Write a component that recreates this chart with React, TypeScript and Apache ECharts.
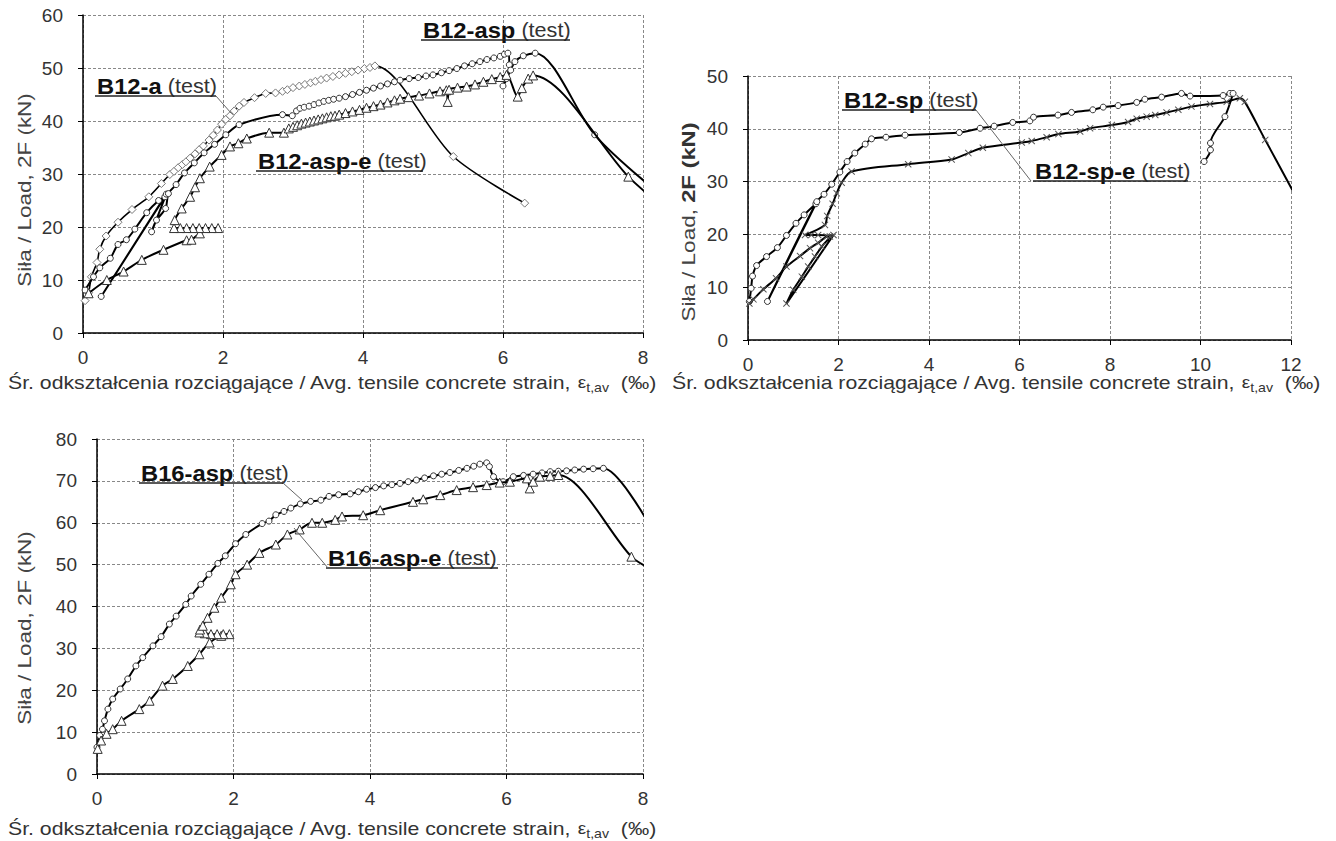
import React, { useEffect, useRef } from "react";
import * as echarts from "echarts";

// ---------- DATA ----------
// Chart 1 (B12)
const B12_A: number[][] = [
  [0.03, 6.1], [0.08, 7.6], [0.12, 10.6], [0.2, 13.3], [0.24, 15.8], [0.33, 18.3], [0.5, 20.9], [0.7, 23.3],
  [0.94, 25.7], [1.12, 28.2], [1.24, 29.9], [1.3, 30.5], [1.36, 31.2], [1.42, 31.8], [1.47, 32.3], [1.53, 33.0],
  [1.6, 33.8], [1.66, 34.6], [1.72, 35.3], [1.8, 36.4], [1.86, 37.3], [1.92, 38.3], [1.98, 39.4], [2.04, 40.3],
  [2.1, 41.0], [2.16, 41.9], [2.23, 42.8], [2.3, 43.5], [2.45, 44.4], [2.61, 45.2], [2.75, 45.3], [2.85, 45.6],
  [2.92, 45.9], [3.0, 46.3], [3.09, 46.6], [3.17, 46.9], [3.25, 47.2], [3.32, 47.5], [3.4, 47.8], [3.48, 48.1],
  [3.57, 48.4], [3.66, 48.7], [3.75, 49.0], [3.84, 49.3], [3.93, 49.6], [4.02, 49.9], [4.1, 50.1], [4.17, 50.4],
  [5.29, 33.3], [6.31, 24.5],
];
const B12_ASP: number[][] = [
  [0.03, 8.1], [0.15, 10.6], [0.24, 12.3], [0.39, 14.1], [0.5, 16.7], [0.62, 17.6], [0.74, 19.6], [0.91, 22.7],
  [1.08, 25.0], [1.17, 25.7], [0.26, 6.9], [1.19, 26.2], [0.98, 19.1], [1.05, 21.3], [1.18, 23.5], [1.22, 26.3],
  [1.33, 28.0], [1.45, 30.2], [1.59, 32.1], [1.73, 34.0], [1.88, 35.6], [2.04, 37.4], [2.23, 39.3], [2.85, 41.2],
  [2.99, 41.0], [3.05, 41.9], [3.1, 42.4], [3.16, 42.6], [3.23, 42.8], [3.3, 43.1], [3.37, 43.4], [3.44, 43.7],
  [3.51, 43.9], [3.58, 44.1], [3.66, 44.3], [3.75, 44.6], [3.85, 45.0], [3.95, 45.4], [4.05, 45.8], [4.15, 46.2],
  [4.25, 46.6], [4.35, 47.0], [4.45, 47.4], [4.53, 47.7], [4.66, 48.0], [4.79, 48.2], [4.9, 48.5], [5.0, 48.7],
  [5.12, 49.1], [5.23, 49.5], [5.34, 49.9], [5.45, 50.4], [5.56, 50.8], [5.67, 51.2], [5.77, 51.6], [5.87, 51.9],
  [5.96, 52.2], [6.02, 52.6], [6.07, 52.8], [6.09, 50.6], [6.05, 48.0], [6.0, 46.6], [6.11, 49.6], [6.17, 51.2],
  [6.29, 52.3], [6.46, 52.8], [7.31, 37.4], [8.05, 28.3],
];
const B12_ASP_E: number[][] = [
  [0.08, 7.5], [0.34, 10.0], [0.58, 11.6], [0.84, 13.8], [1.15, 15.7], [1.48, 17.5], [1.55, 17.6], [1.67, 18.8],
  [1.93, 19.8], [1.84, 19.8], [1.75, 19.8], [1.66, 19.8], [1.57, 19.8], [1.48, 19.8], [1.39, 19.8], [1.3, 19.8],
  [1.31, 21.3], [1.41, 23.5], [1.53, 25.7], [1.6, 27.5], [1.67, 29.2], [1.81, 31.4], [1.98, 33.6], [2.1, 35.2],
  [2.22, 35.8], [2.34, 36.7], [2.66, 37.8], [2.87, 37.8], [2.94, 38.6], [3.0, 38.9], [3.06, 39.2], [3.12, 39.5],
  [3.18, 39.7], [3.24, 39.9], [3.3, 40.1], [3.36, 40.3], [3.42, 40.5], [3.48, 40.7], [3.54, 40.9], [3.6, 41.0],
  [3.66, 41.2], [3.75, 41.5], [3.85, 41.8], [3.95, 42.1], [4.05, 42.5], [4.15, 42.8], [4.25, 43.1], [4.35, 43.5],
  [4.45, 43.9], [4.53, 44.2], [4.65, 44.5], [4.8, 44.8], [4.95, 45.2], [5.1, 45.6], [5.19, 45.8], [5.21, 43.6],
  [5.23, 45.9], [5.35, 46.3], [5.48, 46.5], [5.6, 46.9], [5.72, 47.4], [5.84, 47.9], [5.96, 48.3], [6.05, 48.7],
  [6.21, 44.6], [6.27, 46.2], [6.36, 48.0], [6.43, 48.6], [7.79, 29.5], [8.05, 26.4],
];
// Chart 2 (B12-sp)
const B12_SP: number[][] = [
  [0.03, 7.3], [0.07, 9.8], [0.1, 12.1], [0.19, 14.1], [0.41, 15.8], [0.65, 17.5], [0.85, 19.8], [1.06, 22.1],
  [1.24, 23.7], [1.5, 25.8], [0.43, 7.3], [1.52, 26.2], [1.68, 27.6], [1.85, 29.5], [2.03, 31.8], [2.19, 33.8],
  [2.36, 35.4], [2.59, 37.1], [2.73, 38.1], [3.05, 38.4], [3.47, 38.8], [4.67, 39.3], [5.13, 40.1], [5.44, 40.5],
  [5.85, 41.2], [6.23, 41.5], [6.31, 42.2], [6.85, 42.6], [7.15, 43.1], [7.62, 43.6], [7.85, 44.1], [8.18, 44.4],
  [8.59, 45.0], [8.77, 45.6], [9.14, 46.0], [9.58, 46.7], [9.77, 46.2], [10.5, 46.3], [10.65, 46.7], [10.72, 46.7],
  [10.54, 42.3], [10.22, 37.3], [10.22, 36.0], [10.08, 33.8],
];
const B12_SP_E: number[][] = [
  [0.03, 6.9], [0.12, 7.7], [0.34, 9.6], [0.62, 11.7], [0.85, 13.9], [1.15, 15.9], [1.37, 17.4], [1.55, 18.4],
  [1.74, 19.6], [1.89, 19.9], [0.85, 6.9], [1.0, 9.5], [1.19, 12.0], [1.33, 13.9], [1.48, 15.8], [1.63, 17.7],
  [1.81, 19.6], [1.55, 19.9], [1.4, 19.9], [1.26, 19.9], [1.7, 21.8], [1.75, 23.5], [1.87, 25.8], [1.96, 27.8],
  [2.07, 29.8], [2.29, 31.9], [3.54, 33.3], [4.5, 34.2], [4.87, 35.4], [5.19, 36.4], [6.05, 37.4], [6.27, 37.7],
  [6.6, 38.4], [6.86, 39.0], [7.34, 39.5], [7.56, 40.1], [8.04, 40.7], [8.4, 41.3], [8.59, 41.9], [8.81, 42.3],
  [9.0, 42.6], [9.25, 43.1], [9.51, 43.6], [9.8, 44.2], [10.21, 44.7], [10.58, 45.1], [10.87, 45.8], [10.98, 45.1],
  [11.43, 37.9], [12.05, 28.1],
];
// Chart 3 (B16)
const B16_ASP: number[][] = [
  [0.0, 6.4], [0.04, 9.2], [0.08, 10.7], [0.11, 12.7], [0.16, 15.5], [0.23, 17.9], [0.34, 20.3], [0.45, 22.7],
  [0.57, 25.8], [0.67, 27.8], [0.82, 30.6], [0.94, 32.8], [1.06, 35.8], [1.16, 37.7], [1.3, 40.5], [1.38, 42.5],
  [1.52, 45.3], [1.64, 47.7], [1.77, 50.3], [1.88, 52.1], [2.03, 55.0], [2.18, 57.2], [2.42, 59.8], [2.52, 60.4],
  [2.62, 61.9], [2.74, 62.7], [2.84, 63.5], [2.98, 64.5], [3.13, 65.1], [3.28, 65.4], [3.4, 66.3], [3.54, 66.7],
  [3.71, 66.9], [3.83, 67.4], [3.95, 68.0], [4.08, 68.4], [4.2, 68.8], [4.32, 69.1], [4.44, 69.4], [4.56, 69.8],
  [4.68, 70.2], [4.8, 70.7], [4.93, 71.2], [5.05, 71.6], [5.17, 72.0], [5.3, 72.5], [5.42, 73.0], [5.52, 73.5],
  [5.61, 74.0], [5.71, 74.3], [5.75, 73.4], [5.81, 71.0], [5.95, 69.8], [6.1, 71.0], [6.25, 71.3], [6.39, 71.6],
  [6.52, 71.9], [6.64, 72.2], [6.76, 72.3], [6.88, 72.4], [7.0, 72.6], [7.13, 72.8], [7.27, 72.9], [7.42, 73.0],
  [8.05, 60.7],
];
const B16_ASP_E: number[][] = [
  [0.01, 6.0], [0.06, 8.0], [0.14, 9.6], [0.23, 10.7], [0.36, 12.7], [0.62, 15.5], [0.77, 17.5], [0.96, 21.1],
  [1.11, 22.7], [1.33, 25.8], [1.5, 28.6], [1.65, 31.4], [1.82, 33.0], [1.94, 33.4], [1.85, 33.4], [1.76, 33.4],
  [1.67, 33.4], [1.58, 33.6], [1.5, 33.8], [1.51, 34.5], [1.55, 35.4], [1.62, 37.3], [1.72, 39.7], [1.82, 42.1],
  [1.96, 45.3], [2.03, 47.7], [2.2, 50.0], [2.38, 52.8], [2.62, 54.8], [2.79, 57.2], [2.97, 58.4], [3.15, 60.0],
  [3.3, 60.0], [3.49, 60.7], [3.59, 61.5], [3.9, 61.8], [4.15, 63.0], [4.63, 65.0], [4.78, 65.6], [5.03, 66.6],
  [5.27, 67.8], [5.51, 68.5], [5.71, 69.0], [5.9, 69.6], [6.05, 69.8], [6.3, 70.6], [6.34, 68.2], [6.39, 69.8],
  [6.49, 71.0], [6.64, 71.2], [6.76, 71.4], [7.83, 51.9], [8.05, 49.5],
];

const X_MAX = [8, 12, 8];
const Y_MAX = [60, 50, 80];
const X_STEP = 2;
const Y_STEP = 10;
const Y_TITLE = "Siła / Load, 2F (kN)";
const X_TITLE_MAIN = "Śr. odkształcenia rozciągające / Avg. tensile concrete strain, ";

const FONT = "'Liberation Sans', Arial, Helvetica, sans-serif";
const X_MARK = "path://M0,1 L1,0 L5,4 L9,0 L10,1 L6,5 L10,9 L9,10 L5,6 L1,10 L0,9 L4,5 Z";

const GRIDS = [
  { left: 83, top: 15, width: 560, height: 318 },
  { left: 748, top: 76, width: 543, height: 264 },
  { left: 97, top: 439, width: 546, height: 335 },
];

function lineSeries(data: number[][], idx: number, symbol: string, size: number, border: string, lw = 2, z = 3) {
  const isX = symbol.startsWith("path://");
  return {
    type: "line",
    xAxisIndex: idx,
    yAxisIndex: idx,
    data,
    smooth: 0.3,
    symbol,
    symbolSize: size,
    showSymbol: true,
    clip: true,
    z,
    lineStyle: { color: "#000", width: lw },
    itemStyle: isX
      ? { color: "#555", borderWidth: 0 }
      : { color: "#fff", borderColor: border, borderWidth: 1 },
    emphasis: { disabled: true },
  };
}

function axisX(idx: number) {
  return {
    type: "value",
    gridIndex: idx,
    min: 0,
    max: X_MAX[idx],
    interval: X_STEP,
    axisLine: { show: true, onZero: false, lineStyle: { color: "#000", width: 1.5 } },
    axisTick: { show: true, length: 5, lineStyle: { color: "#000", width: 1 } },
    axisLabel: { fontSize: 19, color: "#333", fontFamily: FONT, margin: 15 },
    splitLine: { show: true, lineStyle: { color: "#888", type: [3, 2], width: 1 } },
  };
}
function axisY(idx: number) {
  return {
    type: "value",
    gridIndex: idx,
    min: 0,
    max: Y_MAX[idx],
    interval: Y_STEP,
    axisLine: { show: true, onZero: false, lineStyle: { color: "#000", width: 1.5 } },
    axisTick: { show: true, length: 5, lineStyle: { color: "#000", width: 1 } },
    axisLabel: { fontSize: 19, color: "#333", fontFamily: FONT, margin: 20 },
    splitLine: { show: true, lineStyle: { color: "#888", type: [3, 2], width: 1 } },
  };
}

const RICH_LABEL = {
  b: { fontFamily: FONT, fontSize: 22, fontWeight: "bold", fill: "#111", lineHeight: 24 },
  n: { fontFamily: FONT, fontSize: 20, fill: "#333", lineHeight: 24 },
};

function seriesLabel(x: number, yLine: number, bold: string, uEnd: number) {
  return [
    {
      type: "text",
      x,
      y: yLine + 2,
      scaleX: 1.08,
      z: 10,
      style: {
        text: `{b|${bold}}{n| (test)}`,
        rich: RICH_LABEL,
        align: "left",
        verticalAlign: "bottom",
      },
    },
    {
      type: "line",
      z: 10,
      shape: { x1: x - 2, y1: yLine, x2: uEnd, y2: yLine },
      style: { stroke: "#222", lineWidth: 1.5 },
    },
  ];
}
function leader(x1: number, y1: number, x2: number, y2: number) {
  return {
    type: "line",
    z: 10,
    shape: { x1, y1, x2, y2 },
    style: { stroke: "#666", lineWidth: 1 },
  };
}

function yTitle(cx: number, cy: number, boldPart: boolean) {
  return {
    type: "text",
    x: cx,
    y: cy,
    rotation: Math.PI / 2,
    scaleX: 1.25,
    z: 10,
    style: {
      text: boldPart ? "{n|Siła / Load, }{b|2F (kN)}" : `{n|${Y_TITLE}}`,
      rich: {
        n: { fontFamily: FONT, fontSize: 18, fill: "#444" },
        b: { fontFamily: FONT, fontSize: 19, fill: "#333", fontWeight: "bold" },
      },
      align: "center",
      verticalAlign: "middle",
    },
  };
}

function xTitle(x: number, y: number) {
  return {
    type: "text",
    x,
    y,
    scaleX: 1.18,
    z: 10,
    style: {
      text: `{n|${X_TITLE_MAIN}}{e|ε}{s|t,av}{n|  (‰)}`,
      rich: {
        n: { fontFamily: FONT, fontSize: 18, fill: "#333", lineHeight: 22 },
        e: { fontFamily: FONT, fontSize: 16, fill: "#333", lineHeight: 22 },
        s: { fontFamily: FONT, fontSize: 12, fill: "#333", lineHeight: 13, verticalAlign: "bottom" },
      },
      align: "left",
      verticalAlign: "middle",
    },
  };
}

export default function App() {
  const ref = useRef<HTMLDivElement>(null);
  useEffect(() => {
    document.body.style.margin = "0";
    const chart = echarts.init(ref.current!, null, { renderer: "svg" });
    chart.setOption({
      animation: false,
      backgroundColor: "#fff",
      grid: GRIDS.map((g) => ({ ...g, containLabel: false, outerBoundsMode: "none" })),
      xAxis: [axisX(0), axisX(1), axisX(2)],
      yAxis: [axisY(0), axisY(1), axisY(2)],
      series: [
        lineSeries(B12_A, 0, "diamond", 8, "#777", 1.6, 3),
        lineSeries(B12_ASP, 0, "circle", 6, "#333", 2, 4),
        lineSeries(B12_ASP_E, 0, "triangle", 9, "#333", 2, 5),
        lineSeries(B12_SP, 1, "circle", 6, "#333", 2, 4),
        lineSeries(B12_SP_E, 1, X_MARK, 7, "#555", 2, 5),
        lineSeries(B16_ASP, 2, "circle", 6, "#333", 2, 4),
        lineSeries(B16_ASP_E, 2, "triangle", 9, "#333", 2, 5),
      ],
      graphic: [
        ...seriesLabel(97, 96, "B12-a", 216),
        leader(216, 96, 231, 113),
        ...seriesLabel(423, 40, "B12-asp", 570),
        ...seriesLabel(258, 171, "B12-asp-e", 423),
        ...seriesLabel(844, 110, "B12-sp", 976),
        leader(976, 110, 1031, 181),
        ...seriesLabel(1035, 181, "B12-sp-e", 1188),
        ...seriesLabel(141, 483, "B16-asp", 283),
        leader(283, 483, 302, 500),
        ...seriesLabel(328, 568, "B16-asp-e", 498),
        leader(328, 568, 294, 528),
        yTitle(25, 190, false),
        yTitle(689, 222, true),
        yTitle(25, 628, false),
        xTitle(8, 383),
        xTitle(672, 383),
        xTitle(8, 829),
      ],
    });
    return () => chart.dispose();
  }, []);
  return (
    <div
      ref={ref}
      style={{ position: "absolute", left: 0, top: 0, width: 1336, height: 841 }}
    />
  );
}
